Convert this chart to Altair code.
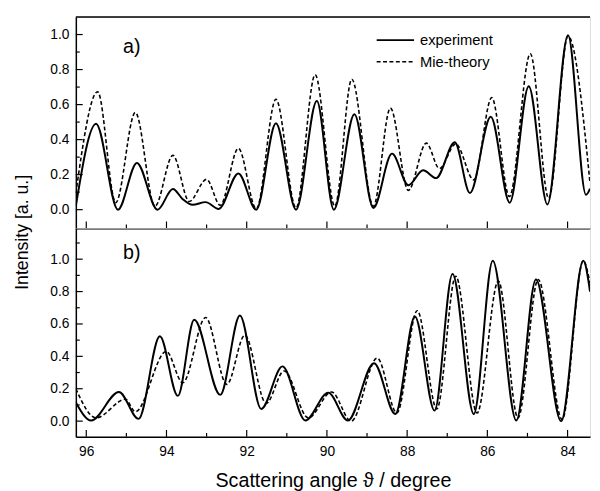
import altair as alt
import pandas as pd

# ---- data ----
a_exp_angle = [96.26, 95.755, 95.21, 94.738, 94.224, 93.84, 93.595, 93.351, 93.025, 92.698,
               92.208, 91.761, 91.271, 90.77, 90.251, 89.828, 89.315, 88.842, 88.378, 87.97,
               87.602, 87.277, 86.812, 86.435, 85.914, 85.442, 84.968, 84.503, 83.989, 83.54, 83.44]
a_exp_int = [0.02, 0.49, 0.0, 0.267, 0.0, 0.118, 0.06, 0.028, 0.043, 0.004,
             0.207, 0.0, 0.494, 0.0, 0.62, 0.0, 0.545, 0.01, 0.32, 0.14,
             0.225, 0.18, 0.385, 0.095, 0.53, 0.04, 0.705, 0.03, 0.996, 0.085, 0.12]

a_mie_angle = [96.26, 95.716, 95.266, 94.777, 94.288, 93.84, 93.432, 93.001, 92.659, 92.208,
               91.761, 91.271, 90.77, 90.293, 89.803, 89.38, 88.842, 88.417, 87.97, 87.522,
               87.194, 86.788, 86.338, 85.89, 85.45, 84.929, 84.471, 83.989, 83.44]
a_mie_int = [0.094, 0.673, 0.04, 0.555, 0.02, 0.31, 0.047, 0.173, 0.025, 0.35,
             0.005, 0.63, 0.01, 0.77, 0.02, 0.745, 0.02, 0.58, 0.11, 0.38,
             0.235, 0.376, 0.17, 0.64, 0.075, 0.89, 0.065, 0.99, 0.15]

b_exp_angle = [96.26, 95.878, 95.185, 94.696, 94.165, 93.718, 93.309, 92.659, 92.169, 91.638,
               91.108, 90.538, 89.968, 89.478, 88.825, 88.294, 87.805, 87.316, 86.868, 86.338,
               85.865, 85.278, 84.789, 84.16, 83.608, 83.44]
b_exp_int = [0.115, 0.004, 0.18, 0.014, 0.524, 0.156, 0.626, 0.162, 0.652, 0.075,
             0.338, 0.004, 0.176, 0.004, 0.358, 0.044, 0.646, 0.065, 0.909, 0.044,
             0.99, 0.004, 0.875, 0.0, 0.99, 0.8]

b_mie_angle = [96.26, 95.755, 95.022, 94.777, 94.004, 93.595, 93.025, 92.495, 92.047, 91.516,
               91.068, 90.464, 89.884, 89.395, 88.745, 88.255, 87.749, 87.26, 86.788, 86.257,
               85.726, 85.236, 84.733, 84.136, 83.608, 83.44]
b_mie_int = [0.2, 0.02, 0.135, 0.058, 0.43, 0.237, 0.64, 0.227, 0.53, 0.11,
             0.31, 0.02, 0.18, 0.0, 0.389, 0.05, 0.682, 0.075, 0.895, 0.05,
             0.865, 0.02, 0.875, 0.01, 0.99, 0.85]

x_major = [96, 94, 92, 90, 88, 86, 84]
x_minor = [95, 93, 91, 89, 87, 85]
y_major = [0.0, 0.2, 0.4, 0.6, 0.8, 1.0]
y_minor_a = [0.1, 0.3, 0.5, 0.7, 0.9]
y_minor_b = [0.1, 0.3, 0.5, 0.7, 0.9, 1.1]
legend_labels = ["experiment", "Mie-theory"]

X_DOMAIN = [83.44, 96.26]
Y_DOMAIN_A = [-0.107, 1.10]
Y_DOMAIN_B = [-0.097, 1.19]

W = 523
H_A = 215
H_B = 212
FONT = "Liberation Sans"


def panel(exp_x, exp_y, mie_x, mie_y, ydom, h, label, label_y, y_minor, bottom):
    xs = alt.Scale(domain=X_DOMAIN, reverse=True, nice=False, zero=False)
    ys = alt.Scale(domain=ydom, nice=False, zero=False)
    xaxis = alt.Axis(values=x_major, format="d", ticks=False, tickSize=0, grid=False,
                     labels=bottom, title="Scattering angle \u03d1  / degree" if bottom else None,
                     domainColor="black", domainWidth=1.5, labelFont=FONT, labelFontSize=14,
                     labelColor="black", labelPadding=8, titleFont=FONT, titleFontSize=20,
                     titleFontWeight="normal", titleColor="black", titlePadding=13)
    yaxis = alt.Axis(values=y_major, format=".1f", ticks=False, tickSize=0, grid=False,
                     title=None, domainColor="black", domainWidth=1.5, labelFont=FONT,
                     labelFontSize=14, labelColor="black", labelPadding=7)

    exp = pd.DataFrame({"angle": exp_x, "intensity": exp_y})
    mie = pd.DataFrame({"angle": mie_x, "intensity": mie_y})

    exp_line = alt.Chart(exp).mark_line(color="black", strokeWidth=2, interpolate="monotone",
                                        clip=True).encode(
        x=alt.X("angle:Q", scale=xs, axis=xaxis),
        y=alt.Y("intensity:Q", scale=ys, axis=yaxis),
    )
    mie_line = alt.Chart(mie).mark_line(color="black", strokeWidth=1.6, strokeDash=[4, 2.5],
                                        interpolate="monotone", clip=True).encode(
        x=alt.X("angle:Q", scale=xs, axis=xaxis),
        y=alt.Y("intensity:Q", scale=ys, axis=yaxis),
    )

    xmaj = alt.Chart(pd.DataFrame({"angle": x_major})).mark_rule(color="black", strokeWidth=1.2).encode(
        x=alt.X("angle:Q", scale=xs, axis=xaxis), y=alt.value(h), y2=alt.value(h - 7))
    xmin = alt.Chart(pd.DataFrame({"angle": x_minor})).mark_rule(color="black", strokeWidth=1.2).encode(
        x=alt.X("angle:Q", scale=xs, axis=xaxis), y=alt.value(h), y2=alt.value(h - 4))
    ymaj = alt.Chart(pd.DataFrame({"intensity": y_major})).mark_rule(color="black", strokeWidth=1.2).encode(
        y=alt.Y("intensity:Q", scale=ys, axis=yaxis), x=alt.value(0), x2=alt.value(7))
    ymin = alt.Chart(pd.DataFrame({"intensity": y_minor})).mark_rule(color="black", strokeWidth=1.2).encode(
        y=alt.Y("intensity:Q", scale=ys, axis=yaxis), x=alt.value(0), x2=alt.value(4))

    lab = alt.Chart(pd.DataFrame({"t": [label]})).mark_text(
        font=FONT, fontSize=20, align="left", baseline="middle", color="black").encode(
        text="t:N", x=alt.value(48), y=alt.value(label_y))

    layers = [mie_line, exp_line, xmaj, xmin, ymaj, ymin, lab]

    if not bottom:
        top = alt.Chart(pd.DataFrame({"k": [0]})).mark_rule(color="black", strokeWidth=1.5).encode(
            x=alt.value(0), x2=alt.value(W), y=alt.value(0))
        leg = pd.DataFrame({"label": legend_labels, "yy": [23.5, 45.5]})
        leg_solid = alt.Chart(leg.iloc[[0]]).mark_rule(color="black", strokeWidth=2).encode(
            x=alt.value(306), x2=alt.value(344), y=alt.value(23.5))
        leg_dash = alt.Chart(leg.iloc[[1]]).mark_rule(color="black", strokeWidth=1.6,
                                                      strokeDash=[4, 2.5]).encode(
            x=alt.value(306), x2=alt.value(344), y=alt.value(45.5))
        leg_text = alt.Chart(leg).mark_text(font=FONT, fontSize=15, align="left",
                                            baseline="middle", color="black").encode(
            text="label:N", x=alt.value(350), y=alt.Y("yy:Q", scale=None))
        ytitle = alt.Chart(pd.DataFrame({"t": ["Intensity [a. u.]"]})).mark_text(
            font=FONT, fontSize=18, angle=270, align="center", baseline="middle",
            color="black").encode(text="t:N", x=alt.value(-54), y=alt.value(219))
        layers += [top, leg_solid, leg_dash, leg_text, ytitle]

    return alt.layer(*layers).properties(width=W, height=h)


pa = panel(a_exp_angle, a_exp_int, a_mie_angle, a_mie_int, Y_DOMAIN_A, H_A, "a)", 30.5,
           y_minor_a, False)
pb = panel(b_exp_angle, b_exp_int, b_mie_angle, b_mie_int, Y_DOMAIN_B, H_B, "b)", 25.5,
           y_minor_b, True)

chart = alt.vconcat(pa, pb, spacing=0, bounds="flush").properties(
    padding={"left": 5, "top": 3, "right": 0, "bottom": 0}
).configure_view(stroke=None).configure(background="white")

chart.save("out.html", embed_options={"renderer": "svg", "actions": False})
